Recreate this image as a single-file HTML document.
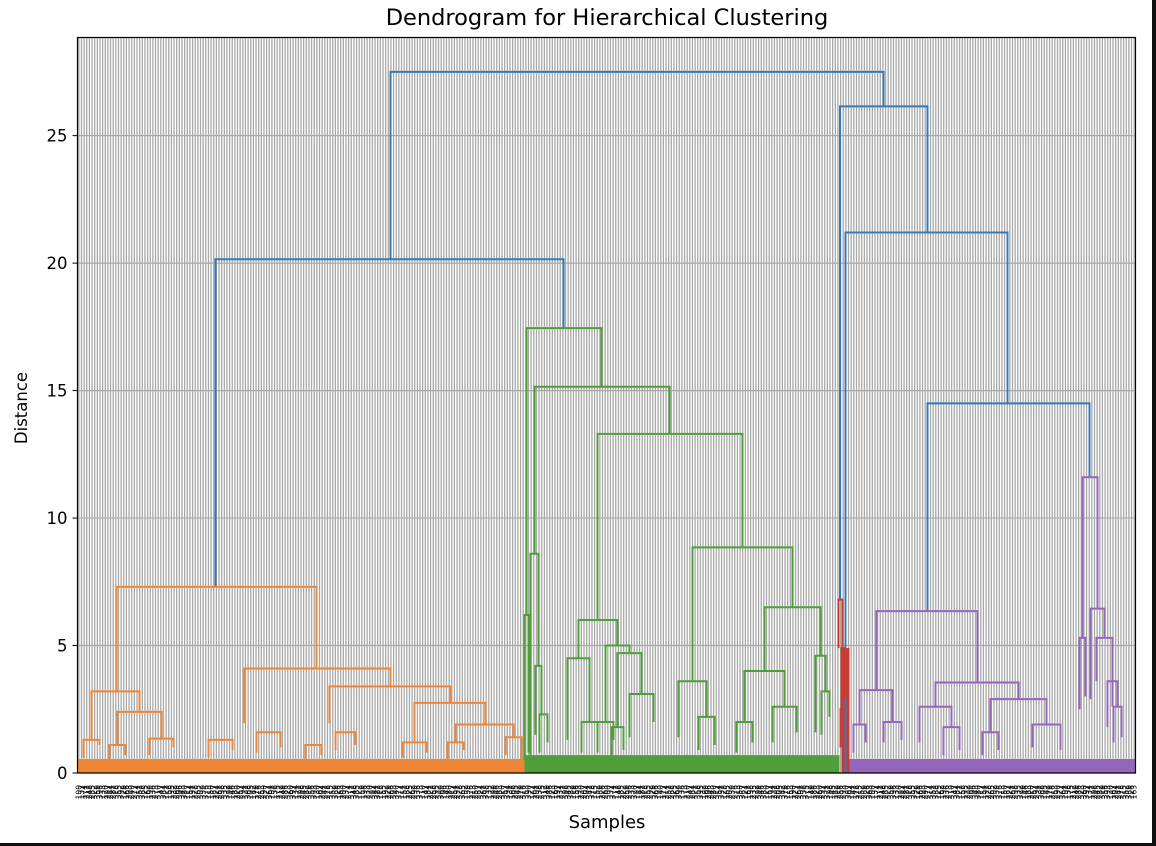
<!DOCTYPE html>
<html><head><meta charset="utf-8"><style>
html,body{margin:0;padding:0;background:#fff;}
svg{display:block;font-family:"DejaVu Sans","Liberation Sans",sans-serif;}
</style></head><body>
<svg id="chart" width="1156" height="846" viewBox="0 0 1156 846">
<rect x="0" y="0" width="1156" height="846" fill="#fff"/>
<g id="grid"></g>
<g id="bands"></g>
<g id="links"></g>
<rect x="77.5" y="37.5" width="1058" height="735.5" fill="none" stroke="#000" stroke-width="1.2"/>
<g id="yaxis"></g>
<g id="xlabels"></g>
<text x="607" y="25" text-anchor="middle" font-size="22.5" fill="#000">Dendrogram for Hierarchical Clustering</text>
<text x="27" y="408" text-anchor="middle" font-size="16.5" transform="rotate(-90 27 408)">Distance</text>
<text x="607" y="828" text-anchor="middle" font-size="18">Samples</text>
<rect x="1152" y="0" width="4" height="846" fill="#111"/>
<rect x="0" y="843" width="1156" height="3" fill="#111"/>
</svg>
<script>
const leafCount = 400;
const yTicks = [0, 5, 10, 15, 20, 25];
const colorVals = {O:"#ef8636", G:"#4f9e3a", R:"#c93c32", P:"#9467bd", B:"#3a78b5"};
// link x positions (sample-position units 0..1058), heights
const linkX1 = [313,138,762.5,768,850,
 39,14,40,6,32,72,167,252,337,378,131,179,228,258,325,370,428,
 449,457,453,458,462,520,501,490,504,528,520,540,552,534,615,601,687,667,695,659,738,744,621,447,
 761,764,766,763,
 799,782,776,806,842,866,858,913,905,955,1005,1002,1013,1019,1030,1036];
const linkX2 = [806,486,850,930,1012,
 239,62,84,22,48,96,313,373,408,436,155,203,244,278,349,386,444,
 524,592,461,464,470,665,540,512,520,552,536,564,576,546,715,629,743,707,719,675,748,752,637,451,
 765,768,770,765,
 900,815,788,824,874,882,941,969,921,983,1020,1008,1027,1035,1040,1044];
const linkH  = [27.5,20.15,26.15,21.2,14.5,
 7.3,3.2,2.4,1.3,1.1,1.35,4.1,3.4,2.75,1.9,1.3,1.6,1.1,1.6,1.2,1.2,1.4,
 17.45,15.15,8.6,4.2,2.3,13.3,6.0,4.5,2.0,5.0,2.0,4.7,3.1,1.8,8.85,3.6,6.5,4.0,2.6,2.0,4.6,3.2,2.2,6.2,
 6.8,4.9,3.0,2.5,
 6.35,3.25,1.9,2.0,2.6,1.8,3.55,2.9,1.6,1.9,11.6,5.3,6.45,5.3,3.6,2.6];
const linkHL = [20.15,7.3,6.8,0,6.35,
 3.2,1.3,1.1,0.6,0.5,0.7,1.95,1.95,1.2,1.2,0.6,0.8,0.5,0.9,0.6,0.5,0.7,
 6.2,8.6,0.6,1.5,0.8,6.0,4.5,1.3,0.8,2.0,0.8,1.8,1.4,0.7,3.6,1.4,4.0,2.0,1.2,0.8,1.6,1.5,0.9,0.5,
 4.9,2.5,1.2,1.0,
 3.25,1.9,0.8,1.2,1.2,0.7,2.6,1.6,0.7,1.0,5.3,2.5,2.9,3.6,1.8,1.2];
const linkHR = [26.15,17.45,21.2,14.5,11.6,
 4.1,2.4,1.35,1.1,0.7,1.0,3.4,2.75,1.9,1.4,0.9,1.0,0.7,1.1,0.8,0.9,0.4,
 15.15,13.3,4.2,2.3,1.2,8.85,5.0,2.0,1.0,4.7,1.3,3.1,2.0,0.9,6.5,2.2,4.6,2.6,1.6,1.2,3.2,2.2,1.1,0.8,
 0.3,3.0,1.5,0.8,
 3.55,2.0,1.2,1.3,1.8,0.9,2.9,1.9,0.9,0.9,6.45,3.0,5.3,2.6,2.6,1.4];
const linkC = ["B","B","B","B","B",
 "O","O","O","O","O","O","O","O","O","O","O","O","O","O","O","O","O",
 "G","G","G","G","G","G","G","G","G","G","G","G","G","G","G","G","G","G","G","G","G","G","G","G",
 "R","R","R","R",
 "P","P","P","P","P","P","P","P","P","P","P","P","P","P","P","P"];
// base leaf bands (dense low-level merges)
const bandStart = [0,447,764,772];
const bandEnd   = [447,762,772,1058];
const bandH     = [0.55,0.7,4.9,0.55];
const bandC     = ["O","G","R","P"];

const X0=77.5, X1=1135.5, Y0=773, YTOP=37.5, YMAX=28.85;
const xs = v => X0 + v;
const ys = v => Y0 - v*(Y0-YTOP)/YMAX;
const NS="http://www.w3.org/2000/svg";
function mk(tag, parent){const e=document.createElementNS(NS,tag);parent.appendChild(e);return e;}

const grid=document.getElementById('grid');
for(let i=0;i<leafCount;i++){
  const x = X0 + (i+0.5)*(X1-X0)/leafCount;
  const l=mk('line',grid);
  
  
  l.setAttribute('x1',x);l.setAttribute('x2',x);l.setAttribute('y1',YTOP);l.setAttribute('y2',Y0);
  l.setAttribute('stroke','#a8a8a8');l.setAttribute('stroke-width','1.3');
}
const ya=document.getElementById('yaxis');
yTicks.forEach(t=>{
  const y=ys(t);
  const g=mk('line',grid);
  
  
  g.setAttribute('x1',X0);g.setAttribute('x2',X1);g.setAttribute('y1',y);g.setAttribute('y2',y);
  g.setAttribute('stroke','#a8a8a8');g.setAttribute('stroke-width','1.2');
  const tk=mk('line',ya);
  
  
  tk.setAttribute('x1',X0-5);tk.setAttribute('x2',X0);tk.setAttribute('y1',y);tk.setAttribute('y2',y);
  tk.setAttribute('stroke','#000');
  const tx=mk('text',ya);
  
  
  tx.setAttribute('x',X0-10);tx.setAttribute('y',y+6);tx.setAttribute('text-anchor','end');tx.setAttribute('font-size','16.5');
  tx.textContent=t;
});

const bands=document.getElementById('bands');
bandStart.forEach((s,i)=>{
  const r=mk('rect',bands);
  
  
  r.setAttribute('x',xs(s));r.setAttribute('width',xs(bandEnd[i])-xs(s));
  r.setAttribute('y',ys(bandH[i]));r.setAttribute('height',Y0-ys(bandH[i]));
  r.setAttribute('fill',colorVals[bandC[i]]);
});

const links=document.getElementById('links');
linkX1.forEach((x1,i)=>{
  const x2=linkX2[i];
  const p=mk('path',links);
  
  
  p.setAttribute('d',`M${xs(x1)},${ys(linkHL[i])}V${ys(linkH[i])}H${xs(x2)}V${ys(linkHR[i])}`);
  p.setAttribute('fill','none');p.setAttribute('stroke',colorVals[linkC[i]]);p.setAttribute('stroke-width','2');
});

const xl=document.getElementById('xlabels');
for(let i=0;i<leafCount;i++){
  const x = X0 + (i+0.5)*(X1-X0)/leafCount + 2.5;
  const t=mk('text',xl);
  
  
  t.setAttribute('x',x);t.setAttribute('y',785);t.setAttribute('font-size','7.5');
  t.setAttribute('text-anchor','end');t.setAttribute('fill','#000');
  t.setAttribute('transform',`rotate(-90 ${x} 785)`);
  t.textContent=String(100+(i*37)%300);
}
</script>
</body></html>
